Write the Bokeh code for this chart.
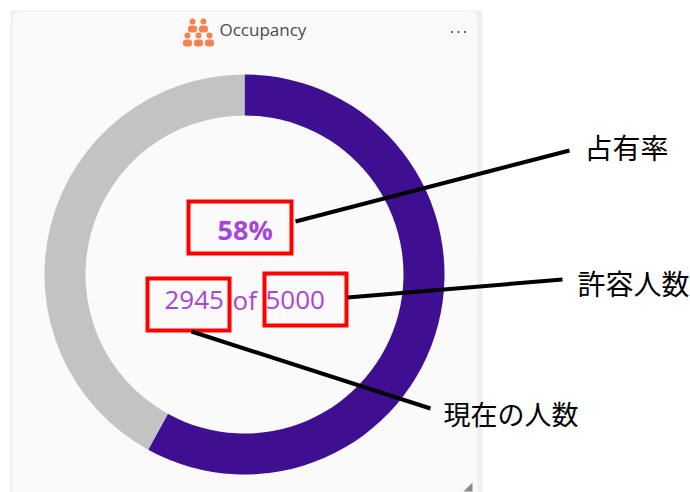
from bokeh.plotting import figure
from bokeh.models import Range1d, ColumnDataSource
from bokeh.core.properties import value
from bokeh.embed import file_html
from bokeh.resources import INLINE
import math

# data
segments = ["Occupied", "Free"]
segment_values = [58, 42]
segment_colors = ["#3F0F92", "#C3C3C3"]
percent_label = "58%"
current_label = "2945"
of_label = "of"
capacity_label = "5000"
title_label = "Occupancy"
callouts = ["占有率", "許容人数", "現在の人数"]

p = figure(width=690, height=492, output_backend="svg", toolbar_location=None,
           x_range=Range1d(0, 690), y_range=Range1d(492, 0), min_border=0)
p.axis.visible = False
p.grid.visible = False
p.outline_line_color = None
p.background_fill_color = "#FFFFFF"
p.border_fill_color = "#FFFFFF"

# card
p.quad(left=[10], right=[482], top=[10], bottom=[500], fill_color="#EFEFEF", line_color=None, border_radius=2)
p.quad(left=[12], right=[477], top=[11], bottom=[500], fill_color="#FAFAFA", line_color=None, border_radius=8)

# donut, clockwise from 12 o'clock on screen
total = sum(segment_values)
starts, ends, acc = [], [], 0
for v in segment_values:
    starts.append(math.pi / 2 - 2 * math.pi * acc / total)
    acc += v
    ends.append(math.pi / 2 - 2 * math.pi * acc / total)
src = ColumnDataSource(dict(name=segments, start=starts, end=ends, color=segment_colors))
p.annular_wedge(x=244, y=274, inner_radius=159, outer_radius=200, start_angle="start", end_angle="end",
                direction="clock", fill_color="color", line_color=None, source=src)

# icon
orange = "#F9814F"
for cx, hy, by in [(192, 21, 25), (203, 21, 25), (187, 35, 39), (198, 35, 39), (209, 35, 39)]:
    p.circle(x=[cx], y=[hy], radius=3, fill_color=orange, line_color=None)
    p.quad(left=[cx - 4.5], right=[cx + 4.5], top=[by], bottom=[by + 7], fill_color=orange, line_color=None, border_radius=3)

def label(x, y, t, size, color, font="Open Sans", style="normal"):
    p.text(x=[x], y=[y - 0.46 * size], text=[t], text_font=value(font), text_font_size=f"{size}px",
           text_color=color, text_font_style=style, text_align="left", text_baseline="alphabetic")

label(219, 37, title_label, 17, "#444B55")
for x in (451.5, 458, 464.5):
    p.circle(x=[x], y=[31.5], radius=1.1, fill_color="#444B55", line_color=None)

purple = "#A945D6"
label(217, 241, percent_label, 27, purple, style="bold")
label(164, 311, current_label, 26, purple)
label(232, 311, of_label, 26, purple)
label(265, 311, capacity_label, 26, purple)

# red boxes
for l, r, t, b in [(188, 291, 201, 253), (147, 229, 278, 330), (264, 346, 273, 325)]:
    p.quad(left=[l], right=[r], top=[t], bottom=[b], fill_color=None, line_color="#FF0000", line_width=4, line_join="miter")

# callout lines
for xs, ys in [([295, 569], [221, 150]), ([347, 562], [297, 279]), ([191, 430], [331, 408])]:
    p.line(xs, ys, line_color="#000000", line_width=4)

label(584, 159, callouts[0], 28, "#000000", font="Noto Sans CJK JP")
label(577, 295, callouts[1], 28, "#000000", font="Noto Sans CJK JP")
label(443, 425, callouts[2], 27, "#000000", font="Noto Sans CJK JP")

# resize grip
p.patch([472, 472, 463], [482, 491, 491], fill_color="#8A8A8A", line_color=None)

open("out.html", "w").write(file_html(p, INLINE))
